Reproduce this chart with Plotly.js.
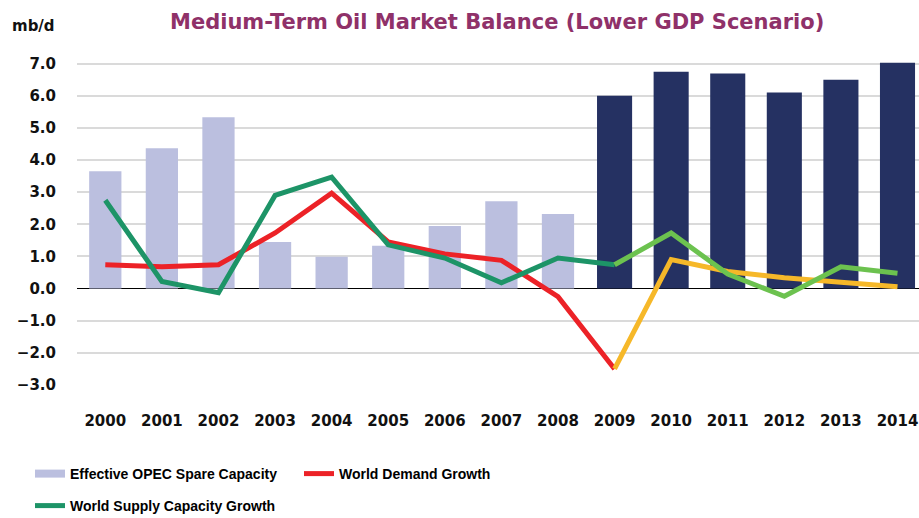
<!DOCTYPE html>
<html>
<head>
<meta charset="utf-8">
<script src="https://cdn.plot.ly/plotly-3.0.1.min.js"></script>
<style>
html,body{margin:0;padding:0;background:#fff;}
#chart{width:919px;height:518px;}
</style>
</head>
<body>
<div id="chart"></div>
<script>
// ---- data ----
var years = ['2000','2001','2002','2003','2004','2005','2006','2007','2008','2009','2010','2011','2012','2013','2014'];
var histYears = years.slice(0, 9);          // 2000-2008
var forecastYears = years.slice(9);         // 2009-2014
var lineHistYears = years.slice(0, 10);     // 2000-2009
var lineForecastYears = years.slice(9);     // 2009-2014

var spareHist = [3.65, 4.37, 5.33, 1.45, 0.99, 1.33, 1.95, 2.72, 2.32];
var spareForecast = [6.0, 6.75, 6.69, 6.1, 6.5, 7.03];
var demandHist = [0.74, 0.68, 0.74, 1.73, 2.97, 1.45, 1.08, 0.88, -0.25, -2.5];
var demandForecast = [-2.5, 0.9, 0.53, 0.34, 0.2, 0.06];
var supplyHist = [2.75, 0.22, -0.13, 2.9, 3.47, 1.36, 0.95, 0.18, 0.95, 0.74];
var supplyForecast = [0.74, 1.73, 0.45, -0.24, 0.68, 0.48];
var yTicks = [-3, -2, -1, 0, 1, 2, 3, 4, 5, 6, 7];

var names = {
  spare: 'Effective OPEC Spare Capacity',
  demand: 'World Demand Growth',
  supply: 'World Supply Capacity Growth'
};

var colors = {
  spareLight: '#BBBFDF',
  spareDark: '#253162',
  demand: '#EC2227',
  demandF: '#F6B829',
  supply: '#1D9467',
  supplyF: '#6CC24F'
};

var tickFont = {family: 'DejaVu Sans, Liberation Sans, Arial, sans-serif', size: 15, color: '#111', weight: 'bold'};
var legFont = {family: 'Liberation Sans, Arial, sans-serif', size: 14, color: '#000', weight: 'bold'};

var traces = [
  {type: 'bar', x: histYears, y: spareHist, name: names.spare, marker: {color: colors.spareLight}, width: 0.57, showlegend: false, hoverinfo: 'skip'},
  {type: 'bar', x: forecastYears, y: spareForecast, name: names.spare, marker: {color: colors.spareDark}, width: 0.62, showlegend: false, hoverinfo: 'skip'},
  // legend proxy for the bar series (wide swatch, like the reference)
  {type: 'scatter', mode: 'lines', x: [null], y: [null], name: names.spare, line: {color: colors.spareLight, width: 8}, legend: 'legend', hoverinfo: 'skip'},
  {type: 'scatter', mode: 'lines', x: lineHistYears, y: demandHist, name: names.demand, line: {color: colors.demand, width: 5}, legend: 'legend', hoverinfo: 'skip'},
  {type: 'scatter', mode: 'lines', x: lineForecastYears, y: demandForecast, name: names.demand, line: {color: colors.demandF, width: 5}, showlegend: false, hoverinfo: 'skip'},
  {type: 'scatter', mode: 'lines', x: lineHistYears, y: supplyHist, name: names.supply, line: {color: colors.supply, width: 5}, legend: 'legend2', hoverinfo: 'skip'},
  {type: 'scatter', mode: 'lines', x: lineForecastYears, y: supplyForecast, name: names.supply, line: {color: colors.supplyF, width: 5}, showlegend: false, hoverinfo: 'skip'}
];

var layout = {
  width: 919, height: 518,
  paper_bgcolor: '#fff', plot_bgcolor: '#fff',
  margin: {l: 77, r: 0, t: 62, b: 133, pad: 0},
  barmode: 'overlay',
  showlegend: true,
  title: {
    text: 'Medium-Term Oil Market Balance (Lower GDP Scenario)',
    font: {family: 'DejaVu Sans, Liberation Sans, Arial, sans-serif', size: 21, color: '#8F3169', weight: 'bold'},
    xref: 'container', yref: 'container', x: 0.541, xanchor: 'center', y: 1 - 22/518, yanchor: 'middle'
  },
  xaxis: {
    type: 'category', range: [-0.5, 14.38],
    showgrid: false, zeroline: false, showline: false,
    ticks: 'outside', ticklen: 22, tickcolor: 'rgba(0,0,0,0)',
    tickfont: tickFont, fixedrange: true
  },
  yaxis: {
    range: [-3, 7.05], tickvals: yTicks, tickformat: '.1f',
    showgrid: true, gridcolor: '#DADADA', gridwidth: 2,
    zeroline: true, zerolinecolor: '#000', zerolinewidth: 1.5,
    showline: false, ticks: 'outside', ticklen: 17, tickcolor: 'rgba(0,0,0,0)',
    tickfont: tickFont, fixedrange: true
  },
  legend: {
    orientation: 'h', xref: 'container', yref: 'container',
    x: 30/919, xanchor: 'left', y: 1 - 458/518, yanchor: 'top',
    entrywidth: 224, entrywidthmode: 'pixels',
    font: legFont, bgcolor: 'rgba(0,0,0,0)', tracegroupgap: 0, itemclick: false, itemdoubleclick: false
  },
  legend2: {
    orientation: 'h', xref: 'container', yref: 'container',
    x: 30/919, xanchor: 'left', y: 1 - 490/518, yanchor: 'top',
    entrywidth: 224, entrywidthmode: 'pixels',
    font: legFont, bgcolor: 'rgba(0,0,0,0)', itemclick: false, itemdoubleclick: false
  },
  annotations: [{
    text: 'mb/d', xref: 'paper', yref: 'paper', x: -67/842, xanchor: 'left',
    y: 1 + (62 - 26)/323, yanchor: 'middle', showarrow: false,
    font: {family: 'DejaVu Sans, Liberation Sans, Arial, sans-serif', size: 15, color: '#111', weight: 'bold'}
  }]
};

Plotly.newPlot('chart', traces, layout, {displayModeBar: false, staticPlot: true});
</script>
</body>
</html>
